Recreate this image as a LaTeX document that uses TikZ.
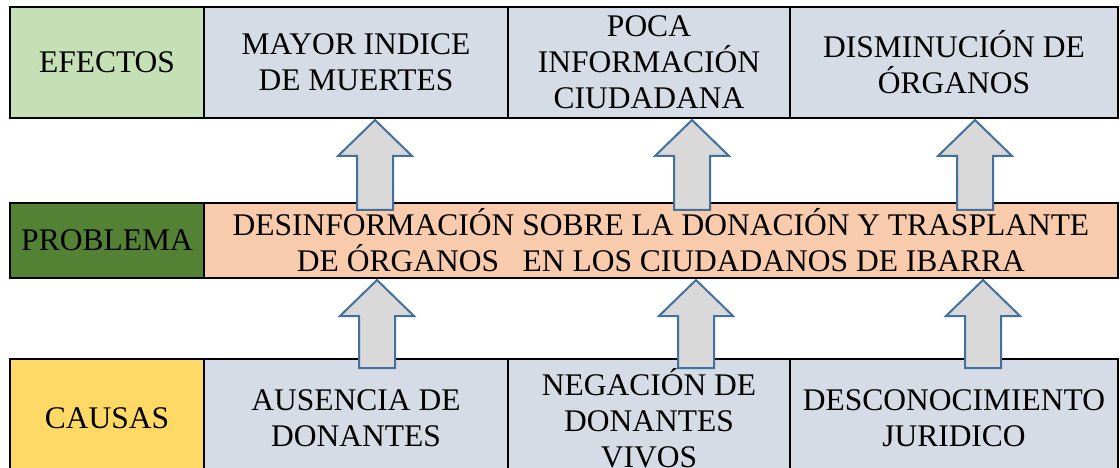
\documentclass[tikz,border=0pt]{standalone}
\usepackage{fontspec}
\setmainfont{Liberation Serif}
\newfontfamily\celdafuente{Liberation Serif}
\usetikzlibrary{positioning}

\definecolor{verdeclaro}{HTML}{C5E0B4}
\definecolor{verdeoscuro}{HTML}{548235}
\definecolor{celdagris}{HTML}{D6DCE5}
\definecolor{durazno}{HTML}{F8CBAD}
\definecolor{amarillo}{HTML}{FFD966}
\definecolor{flechaborde}{HTML}{41719C}
\definecolor{flechagris}{HTML}{D9D9D9}

\tikzset{
  celda/.style={draw=black, line width=2pt, inner sep=0pt, outer sep=0pt,
    align=center, font=\celdafuente\fontsize{31.5}{36}\selectfont},
  filasup/.style={celda, minimum height=111pt},
  filamed/.style={celda, minimum height=75pt},
  filainf/.style={celda, minimum height=119pt},
  flecha/.style={draw=flechaborde, fill=flechagris, line width=2pt, line join=miter}
}

\begin{document}
\begin{tikzpicture}[x=1pt, y=-1pt]
    \useasboundingbox (0,0) rectangle (1120,468);
    \clip (0,0) rectangle (1120,468);

    % efectos
    \node[filasup, fill=verdeclaro, minimum width=194pt, anchor=north west] (efectos) at (10,7) {EFECTOS};
    \node[filasup, fill=celdagris, minimum width=304pt, right=0pt of efectos] (mayor) {MAYOR INDICE\\DE MUERTES};
    \node[filasup, fill=celdagris, minimum width=282pt, right=0pt of mayor] (poca) {POCA\\INFORMACIÓN\\CIUDADANA};
    \node[filasup, fill=celdagris, minimum width=328pt, right=0pt of poca] (disminucion) {DISMINUCIÓN DE\\ÓRGANOS};

    % problema
    \node[filamed, fill=verdeoscuro, minimum width=194pt, anchor=north west] (problema) at (10,203) {PROBLEMA};
    \node[filamed, fill=durazno, minimum width=914pt, right=0pt of problema] (desinfo) {DESINFORMACIÓN SOBRE LA DONACIÓN Y TRASPLANTE\\DE ÓRGANOS\ \ \ EN LOS CIUDADANOS DE IBARRA};

    % causas
    \node[filainf, fill=amarillo, minimum width=194pt, anchor=north west] (causas) at (10,359) {CAUSAS};
    \node[filainf, fill=celdagris, minimum width=304pt, right=0pt of causas] (ausencia) {AUSENCIA DE\\DONANTES};
    \node[filainf, fill=celdagris, minimum width=282pt, right=0pt of ausencia] (negacion) {NEGACIÓN DE\\DONANTES\\VIVOS};
    \node[filainf, fill=celdagris, minimum width=328pt, right=0pt of negacion] (desconocimiento) {DESCONOCIMIENTO\\JURIDICO};

    % flechas hacia arriba
    \foreach \ax in {375,692,975}
        \draw[flecha] (\ax,120) -- ++(37,36) -- ++(-19,0) -- ++(0,54) -- ++(-36,0) -- ++(0,-54) -- ++(-19,0) -- cycle;
    \foreach \ax in {377,696,983}
        \draw[flecha] (\ax,280) -- ++(37,36) -- ++(-19,0) -- ++(0,52) -- ++(-36,0) -- ++(0,-52) -- ++(-19,0) -- cycle;
\end{tikzpicture}
\end{document}
